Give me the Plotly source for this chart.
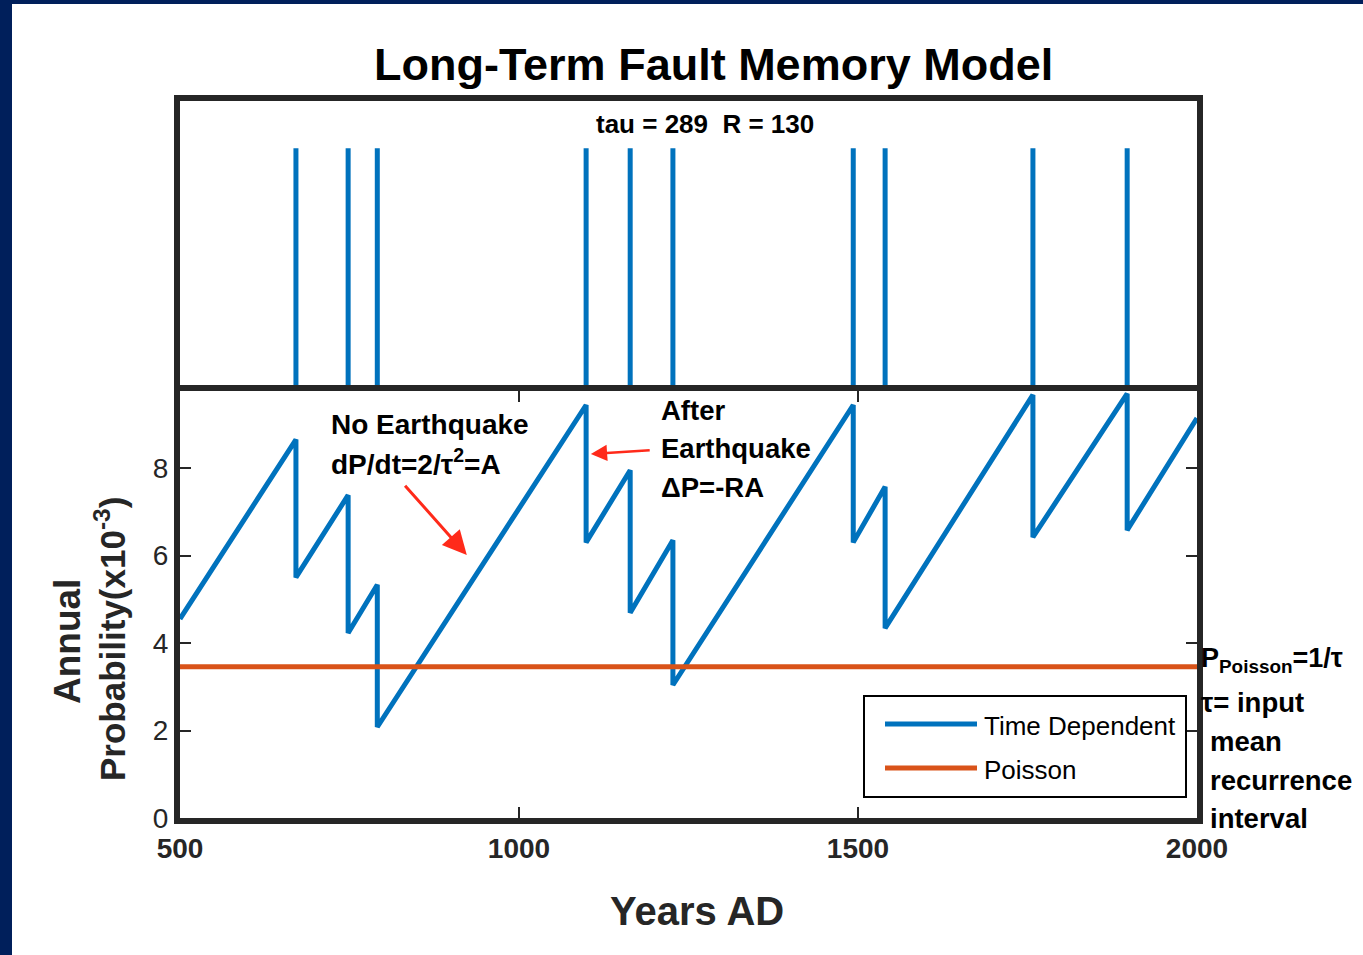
import plotly.graph_objects as go

W, H = 1363, 955

# ---- data ----
eq_years = [671, 748, 791, 1099, 1164, 1227, 1493, 1540, 1758, 1897]
peak_vals = [8.65, 7.38, 5.33, 9.44, 7.95, 6.35, 9.44, 7.57, 9.67, 9.70]
trough_vals = [5.50, 4.23, 2.08, 6.30, 4.69, 3.04, 6.30, 4.34, 6.42, 6.58]
start_year, start_val = 500, 4.55
end_year, end_val = 2000, 9.14
p_poisson = 3.46
x_ticks = [500, 1000, 1500, 2000]
y_ticks = [0, 2, 4, 6, 8]
series_names = ["Time Dependent", "Poisson"]

BLUE = "#0072BD"
ORANGE = "#D95319"
AX = "#262626"
NAVY = "#001F5B"
RED = "#FF2A1A"
FONT = "Liberation Sans, Arial, sans-serif"


def px(x):
    return x / W


def py(y):
    return 1 - y / H


# sawtooth vertices
saw_x = [start_year]
saw_y = [start_val]
for t, pk, tr in zip(eq_years, peak_vals, trough_vals):
    saw_x += [t, t]
    saw_y += [pk, tr]
saw_x.append(end_year)
saw_y.append(end_val)

# event bars for top panel
bar_x, bar_y = [], []
for t in eq_years:
    bar_x += [t, t, None]
    bar_y += [0, 1, None]

fig = go.Figure()
fig.add_trace(go.Scatter(x=bar_x, y=bar_y, mode="lines", line=dict(color=BLUE, width=5),
                         xaxis="x2", yaxis="y2", showlegend=False, hoverinfo="skip"))
fig.add_trace(go.Scatter(x=saw_x, y=saw_y, mode="lines", name=series_names[0],
                         line=dict(color=BLUE, width=5), showlegend=False))
fig.add_trace(go.Scatter(x=[x_ticks[0], x_ticks[-1]], y=[p_poisson, p_poisson], mode="lines",
                         name=series_names[1], line=dict(color=ORANGE, width=5), showlegend=False))

x0d, x1d = px(180), px(1197)
fig.update_layout(
    width=W, height=H, autosize=False,
    margin=dict(l=0, r=0, t=0, b=0, pad=0, autoexpand=False),
    paper_bgcolor="white", plot_bgcolor="white",
    showlegend=False,
    xaxis=dict(domain=[x0d, x1d], range=[500, 2000], tickvals=x_ticks,
               ticks="inside", ticklen=11, tickwidth=2, tickcolor=AX,
               showline=True, linewidth=6, linecolor=AX, mirror="ticks",
               showgrid=False, zeroline=False, automargin=False,
               tickfont=dict(family=FONT, size=28, color=AX, weight="bold"),
               anchor="y"),
    yaxis=dict(domain=[py(818), py(391)], range=[0, 9.76], tickvals=y_ticks,
               ticks="inside", ticklen=11, tickwidth=2, tickcolor=AX,
               showline=True, linewidth=6, linecolor=AX, mirror="ticks",
               showgrid=False, zeroline=False, automargin=False,
               tickfont=dict(family=FONT, size=28, color=AX),
               anchor="x"),
    xaxis2=dict(domain=[x0d, x1d], range=[500, 2000], showticklabels=False, ticks="",
                showline=True, linewidth=6, linecolor=AX, mirror=True, automargin=False,
                showgrid=False, zeroline=False, anchor="y2"),
    yaxis2=dict(domain=[py(385), py(101)], range=[0, 1.2], showticklabels=False, ticks="",
                showline=True, linewidth=6, linecolor=AX, mirror=True, automargin=False,
                showgrid=False, zeroline=False, anchor="x2"),
)

shapes = [
    dict(type="rect", xref="paper", yref="paper", x0=0, x1=px(12), y0=0, y1=1,
         fillcolor=NAVY, line=dict(width=0), layer="below"),
    dict(type="rect", xref="paper", yref="paper", x0=0, x1=1, y0=py(4), y1=1,
         fillcolor=NAVY, line=dict(width=0), layer="below"),
    # legend box
    dict(type="rect", xref="paper", yref="paper", x0=px(864), x1=px(1186), y0=py(797), y1=py(696),
         fillcolor="white", line=dict(color="black", width=2)),
    dict(type="line", xref="paper", yref="paper", x0=px(885), x1=px(977), y0=py(724), y1=py(724),
         line=dict(color=BLUE, width=5)),
    dict(type="line", xref="paper", yref="paper", x0=px(885), x1=px(977), y0=py(768), y1=py(768),
         line=dict(color=ORANGE, width=5)),
]
fig.update_layout(shapes=shapes)


def txt(text, x, y, size, bold=True, xanchor="left", yanchor="middle",
        angle=0, color="black"):
    return dict(text=text, x=px(x), y=py(y), xref="paper", yref="paper", showarrow=False,
                xanchor=xanchor, yanchor=yanchor, textangle=angle,
                font=dict(family=FONT, size=size, color=color,
                          weight="bold" if bold else "normal"))


ann = [
    txt("Long-Term Fault Memory Model", 713, 64, 45, xanchor="center"),
    txt("tau = 289  R = 130", 705, 124, 26, xanchor="center"),
    txt("Years AD", 697, 911, 40, xanchor="center", color=AX),
    txt("Annual", 67, 642, 37, xanchor="center", angle=-90, color=AX),
    txt("Probability(x10<sup>-3</sup>)", 110, 639, 35, xanchor="center", angle=-90, color=AX),
    txt("No Earthquake", 329, 424, 28),
    txt("dP/dt=2/τ<sup>2</sup>=A", 329, 462, 28),
    txt("After", 659, 410, 27.5),
    txt("Earthquake", 659, 448, 27.5),
    txt("ΔP=-RA", 659, 487, 27.5),
    txt("P<sub>Poisson</sub>=1/τ", 1199, 660, 27),
    txt("τ= input", 1199, 702, 27.5),
    txt("mean", 1208, 741, 27.5),
    txt("recurrence", 1208, 780, 27.5),
    txt("interval", 1208, 818, 27.5),
    txt(series_names[0], 982, 726, 26, bold=False),
    txt(series_names[1], 982, 770, 26, bold=False),
]

# red arrows
ann.append(dict(x=923, y=6.01, ax=830, ay=7.63, xref="x", yref="y", axref="x", ayref="y",
                text="", showarrow=True, arrowhead=2, arrowsize=1.6, arrowwidth=3, arrowcolor=RED))
ann.append(dict(x=1106, y=8.32, ax=1195, ay=8.41, xref="x", yref="y", axref="x", ayref="y",
                text="", showarrow=True, arrowhead=2, arrowsize=1.3, arrowwidth=2.5, arrowcolor=RED))
fig.update_layout(annotations=ann)

fig.write_html("out.html", config={"displayModeBar": False, "responsive": False},
               post_script="document.body.style.margin='0';")
